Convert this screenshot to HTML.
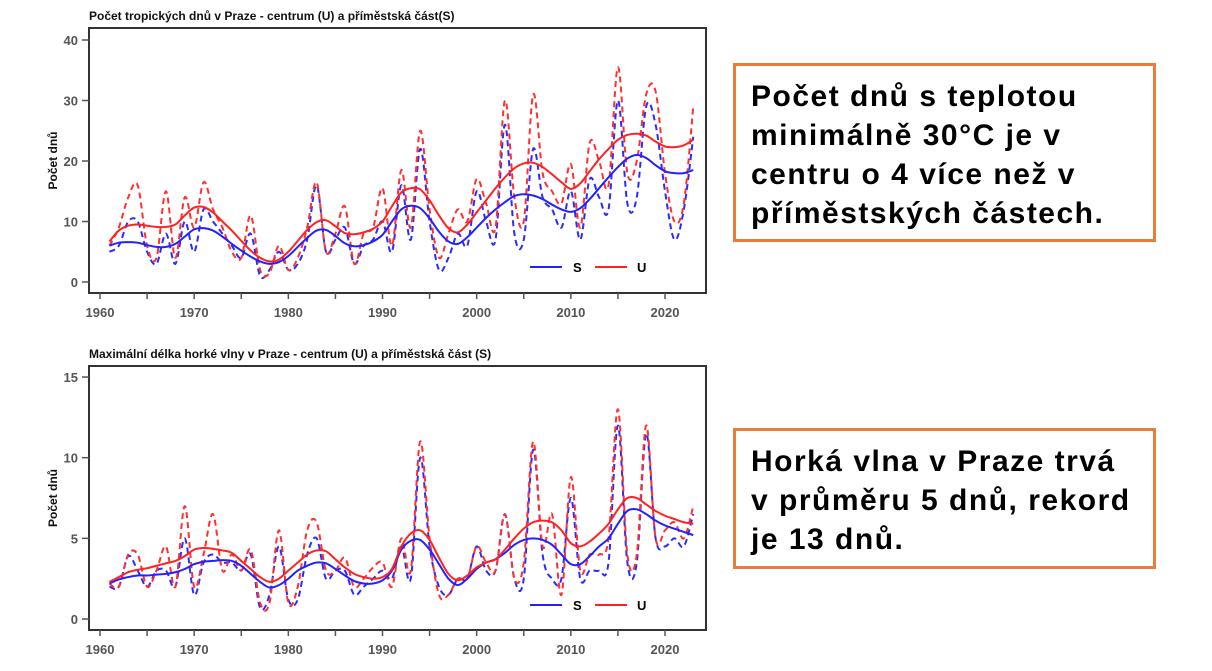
<!DOCTYPE html>
<html><head><meta charset="utf-8">
<style>
body{margin:0;background:#fff;width:1212px;height:671px;overflow:hidden;font-family:"Liberation Sans",sans-serif;}
svg{position:absolute;left:0;top:0}
.box{position:absolute;border:3px solid #ea7d3c;box-sizing:border-box;font-weight:bold;font-size:30px;letter-spacing:1.5px;line-height:39px;color:#000;padding:10px 0 0 15px;white-space:nowrap}
</style></head><body>
<svg id="chart" width="1212" height="671"></svg>
<div class="box" style="left:733px;top:63px;width:423px;height:179px;padding-top:11px">Počet dnů s teplotou<br>minimálně 30°C je v<br>centru o 4 více než v<br>příměstských částech.</div>
<div class="box" style="left:733px;top:428px;width:423px;height:141px;padding-top:11px">Horká vlna v Praze trvá<br>v průměru 5 dnů, rekord<br>je 13 dnů.</div>
<script>
const years=[];for(let y=1961;y<=2023;y++)years.push(y);
const xTicks=[1960,1970,1980,1990,2000,2010,2020];
const topTicks=[0,10,20,30,40];
const botTicks=[0,5,10,15];
const topU=[6,9,14,16,6,4,15,4,14,9,16.5,12,9,5,4,11,2,1.5,6,2,4,9,16.5,5,8,12.5,3,8,9,15.5,6,18.5,9,25,12,4,8,12,10,17,13,9,30,14,10,31,18,15,13,19.5,9,23,20,16,35.5,18,20,31,31.5,18,10,13,29];
const topS=[5,6,10,10,5,3,8,3,10,5,12,10,8,6,4,8,1,2,5,2,3,7,16,5,7,9,3,6,7,10,5,16,7,22,10,2,4,8,6,15,10,7,26,8,7,22,14,12,9,15,7,17,14,12,30,13,14,29,26,15,7,12,24];
const topUs=[6.7,8.5,9.3,9.5,9.3,9.1,9.1,9.5,11,12.3,12.4,11.5,10,8.5,6.8,5.2,4,3.4,3.7,5,6.8,8.6,9.9,10.2,9.2,8.1,7.9,8.2,8.8,10,12.5,14.8,15.5,15.3,13.5,11,8.9,8.2,9.5,11.5,13.5,15.5,17.3,18.8,19.6,19.7,19,17.8,16.5,15.4,16.3,18.3,20.3,22,23.5,24.3,24.5,24.2,23.2,22.4,22.3,22.6,23.5];
const topSs=[6,6.5,6.6,6.5,6.1,5.8,5.8,6.3,7.5,8.7,8.9,8.5,7.5,6.3,5.2,4.2,3.4,3,3.3,4.3,5.8,7.3,8.5,8.6,7.6,6.4,5.9,6.1,6.7,7.8,10,12,12.6,12.2,10.5,8.3,6.7,6.3,7.4,9,10.6,12,13.2,14.2,14.5,14.3,13.7,12.8,12,11.6,12.2,13.7,15.5,17.3,19,20.4,21,20.5,19.3,18.3,18,18,18.5];
const botU=[2.2,2,4,4,2,3,4.5,2,7,2,4,6.5,3,4,3,4.3,1,1,5.5,1,2,5.5,6,3,3,3.8,2,2.5,3.2,3.5,2,5,3,11,5,1.5,1.5,2.5,2.5,4.5,3.5,3,6.5,2.5,3.5,11,4.5,6.5,1.5,8.8,3,4,4,5,13,4,4,12,5,5.5,6,5,7];
const botS=[2,2,3.9,3,2,3,3,2,5,1.5,3.5,4,3.5,3.5,3,4,0.7,1.5,4.5,1.2,1.2,4,5,2.5,3,3,1.5,2,2.5,3,2.5,4.5,2.5,10,4.5,2,1.5,2.5,2.5,4.5,3,3,6.5,2.5,2.5,10.5,4,2.5,2.5,7.5,2.5,3,3,3.5,12,3.5,3.5,11.5,5,4.5,5,4.5,6.5];
const botUs=[2.3,2.6,2.9,3.05,3.15,3.3,3.45,3.6,3.9,4.3,4.4,4.35,4.25,4.1,3.6,3.1,2.6,2.3,2.5,3,3.5,4,4.25,4.2,3.7,3.2,2.8,2.6,2.5,2.6,3.1,4.5,5.3,5.5,4.9,3.8,2.8,2.4,2.7,3.2,3.5,3.7,4.3,5,5.6,6,6.1,6,5.5,4.7,4.5,4.8,5.3,5.9,6.8,7.5,7.5,7.1,6.7,6.4,6.2,6,5.9];
const botSs=[2.2,2.45,2.6,2.7,2.7,2.75,2.8,2.9,3.1,3.4,3.55,3.6,3.65,3.6,3.3,2.8,2.3,1.95,2.1,2.5,3,3.3,3.5,3.45,3.1,2.7,2.35,2.2,2.2,2.4,3,4.3,4.85,4.9,4.3,3.4,2.5,2.1,2.5,3.1,3.5,3.7,4.1,4.6,4.9,5,4.9,4.6,4,3.4,3.4,3.9,4.5,5,5.9,6.7,6.8,6.5,6.1,5.8,5.6,5.4,5.2];

const NS='http://www.w3.org/2000/svg';
const svg=document.getElementById('chart');
function el(t,a,p){const e=document.createElementNS(NS,t);for(const k in a)e.setAttribute(k,a[k]);(p||svg).appendChild(e);return e;}
const xs=y=>100+(y-1960)*9.417;
function path(pts){let d='M'+pts[0][0]+','+pts[0][1];for(let i=0;i<pts.length-1;i++){const p0=pts[Math.max(i-1,0)],p1=pts[i],p2=pts[i+1],p3=pts[Math.min(i+2,pts.length-1)];d+=' C'+(p1[0]+(p2[0]-p0[0])/6)+','+(p1[1]+(p2[1]-p0[1])/6)+' '+(p2[0]-(p3[0]-p1[0])/6)+','+(p2[1]-(p3[1]-p1[1])/6)+' '+p2[0]+','+p2[1];}return d;}
function chart(cfg){
  const g=el('g',{});
  
  
  const ys=v=>cfg.y0-(v-cfg.vmin)*cfg.k;
  const t=el('text',{x:89,y:cfg.top-8,'font-size':12,'font-weight':'bold',fill:'#111'},g);t.textContent=cfg.title;
  
  
  const frame=el('rect',{x:89,y:cfg.top,width:617,height:cfg.bottom-cfg.top,fill:'none',stroke:'#333','stroke-width':2},g);
  
  
  cfg.ticks.forEach(v=>{const y=ys(v);el('line',{x1:82,x2:89,y1:y,y2:y,stroke:'#555','stroke-width':1.5},g);
    const tl=el('text',{x:78,y:y+5,'text-anchor':'end','font-size':13,'font-weight':'bold',fill:'#555'},g);tl.textContent=v;
    
    });
  for(let yr=1960;yr<=2020;yr+=5){const x=xs(yr);el('line',{x1:x,x2:x,y1:cfg.bottom,y2:cfg.bottom+6,stroke:'#555','stroke-width':1.5},g);}
  xTicks.forEach(yr=>{const tl=el('text',{x:xs(yr),y:cfg.bottom+24,'text-anchor':'middle','font-size':13,'font-weight':'bold',fill:'#555'},g);tl.textContent=yr;
    
    });
  const cy=(cfg.top+cfg.bottom)/2;
  const yl=el('text',{x:57,y:cy,transform:'rotate(-90 57 '+cy+')','text-anchor':'middle','font-size':12,'font-weight':'bold',fill:'#111'},g);yl.textContent='Počet dnů';
  
  
  const series=[[cfg.S,'#2b2bff','6,4','raw-s'],[cfg.U,'#ff3030','6,4','raw-u'],[cfg.Ss,'#2222ff','','smooth-s'],[cfg.Us,'#ff2222','','smooth-u']];
  series.forEach(s=>{const pts=years.map((yr,i)=>[xs(yr),ys(s[0][i])]);
    const p=el('path',{d:path(pts),fill:'none',stroke:s[1],'stroke-width':2,'stroke-dasharray':s[2]},g);
    
    });
  const ly=cfg.legY;
  el('line',{x1:530,x2:562,y1:ly,y2:ly,stroke:'#2222ff','stroke-width':2},g);
  const ls=el('text',{x:573,y:ly+5,'font-size':13,'font-weight':'bold'},g);ls.textContent='S';
  
  
  el('line',{x1:595,x2:627,y1:ly,y2:ly,stroke:'#ff2222','stroke-width':2},g);
  const lu=el('text',{x:637,y:ly+5,'font-size':13,'font-weight':'bold'},g);lu.textContent='U';
  
  
}
chart({name:'tropical-days-chart',title:'Počet tropických dnů v Praze - centrum (U) a příměstská část(S)',top:28,bottom:293,y0:282,vmin:0,k:6.05,ticks:topTicks,U:topU,S:topS,Us:topUs,Ss:topSs,legY:267});
chart({name:'heatwave-chart',title:'Maximální délka horké vlny v Praze - centrum (U) a příměstská část (S)',top:366,bottom:630,y0:619,vmin:0,k:16.13,ticks:botTicks,U:botU,S:botS,Us:botUs,Ss:botSs,legY:605});
</script>
</body></html>
